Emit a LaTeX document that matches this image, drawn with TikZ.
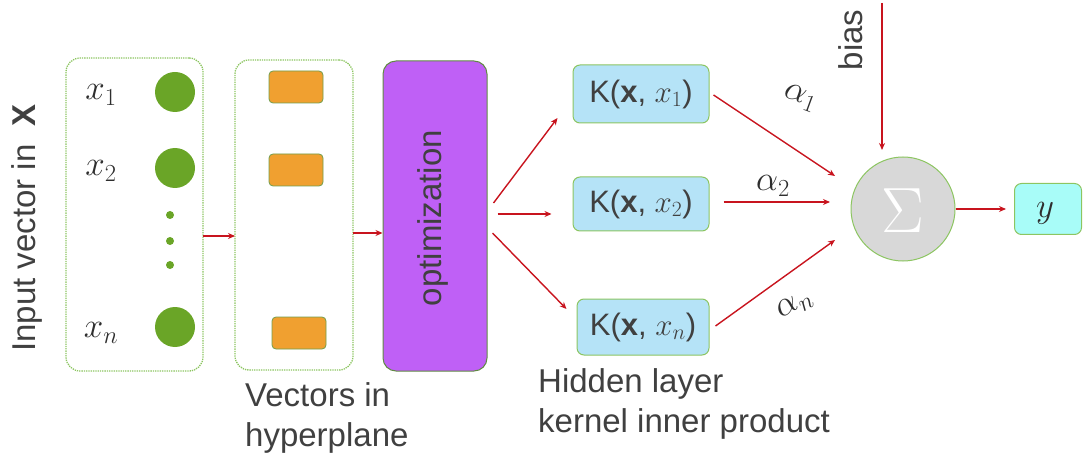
\RequirePackage{fix-cm}
\documentclass[tikz,border=0pt]{standalone}
\usepackage{fontspec}
\setmainfont{Liberation Sans}
\usetikzlibrary{arrows.meta,calc}
\definecolor{txtgray}{HTML}{404040}
\definecolor{mthgray}{HTML}{2E2E2E}
\definecolor{boxgreen}{HTML}{8CC561}
\definecolor{dotgreen}{HTML}{6AA527}
\definecolor{orng}{HTML}{F0A030}
\definecolor{purp}{HTML}{BF60F6}
\definecolor{kblue}{HTML}{B5E3F7}
\definecolor{ycyan}{HTML}{A8FCF8}
\definecolor{sgray}{HTML}{D8D8D8}
\definecolor{arrred}{HTML}{C8141E}
\begin{document}
\begin{tikzpicture}[x=1pt,y=-1pt,
  txt/.style={font=\fontsize{33}{40}\selectfont, text=txtgray, inner sep=0pt},
  mth/.style={font=\fontsize{35}{40}\selectfont, text=mthgray, inner sep=0pt},
  grp/.style={draw=boxgreen, densely dotted, line width=1.3pt, rounded corners=14pt, inner sep=0pt, outer sep=0pt},
  ball/.style={circle, fill=dotgreen, inner sep=0pt, minimum size=40pt},
  smalldot/.style={circle, fill=dotgreen, inner sep=0pt, minimum size=8pt},
  vrect/.style={rectangle, rounded corners=4pt, fill=orng, draw=boxgreen!80!black, line width=0.8pt, minimum width=54pt, minimum height=32pt, inner sep=0pt},
  kbox/.style={rectangle, rounded corners=7pt, fill=kblue, draw=boxgreen, line width=1pt, minimum width=136pt, inner sep=0pt, font=\fontsize{31}{36}\selectfont, text=txtgray},
  arr/.style={draw=arrred, line width=1.4pt, -{Stealth[length=7pt,width=6pt]}}
]
\useasboundingbox (0,0) rectangle (1083,454);

% input group
\node[grp, minimum width=137pt, minimum height=313pt] (inbox) at (134.5,214.5) {};
\node[ball] (c1) at (175,92) {};
\node[ball] (c2) at (175,168) {};
\node[ball] (cn) at (175,327) {};
\node[smalldot] (d1) at (170,215) {};
\node[smalldot] (d2) at (170,241) {};
\node[smalldot] (d3) at (170,265) {};
\node[mth] (lx1) at (101,95) {$x_1$};
\node[mth] (lx2) at (101,171) {$x_2$};
\node[mth] (lxn) at (101,333) {$x_n$};
\node[txt, rotate=90] (inlabel) at (27,228) {Input vector in \ \textbf{X}};

% vectors group
\node[grp, minimum width=118pt, minimum height=310pt] (vecbox) at (294,215) {};
\node[vrect] (r1) at (296,87) {};
\node[vrect] (r2) at (296,170) {};
\node[vrect] (r3) at (299,333) {};
\node[txt, anchor=north west, align=left] (veclabel) at (245,382) {Vectors in\\hyperplane};

% optimization
\node[rectangle, rounded corners=13pt, fill=purp, draw=boxgreen!70!black, line width=1pt, minimum width=104pt, minimum height=310pt, inner sep=0pt] (opt) at (435,216) {};
\node[txt, rotate=90] (optlabel) at (433,218) {optimization};

% kernel boxes
\node[kbox, minimum height=58pt] (k1) at (641,94) {K(\textbf{x}, $x_1$)};
\node[kbox, minimum height=54pt] (k2) at (641,204) {K(\textbf{x}, $x_2$)};
\node[kbox, minimum height=56pt, minimum width=132pt] (kn) at (643,327) {K(\textbf{x}, $x_n$)};
\node[txt, anchor=north west, align=left] (hidlabel) at (538,368) {Hidden layer\\kernel inner product};

% sum and output
\node[circle, fill=sgray, draw=boxgreen, line width=1pt, minimum size=104pt, inner sep=0pt] (sigma) at (903,209) {};
\node[font=\fontsize{64}{64}\selectfont, text=white, inner sep=0pt] (sigmasym) at (903,211) {$\Sigma$};
\node[rectangle, rounded corners=7pt, fill=ycyan, draw=boxgreen, line width=1pt, minimum width=67pt, minimum height=51pt, inner sep=0pt] (ybox) at (1048,209) {};
\node[mth] (ylabel) at (1045,213) {$y$};
\coordinate (biastop) at (882,3);
\node[txt, rotate=90] (biaslabel) at (851,40) {bias};

% alpha labels
\node[mth, rotate=-20] (a1) at (800,98) {$\alpha_1$};
\node[mth] (a2) at (773,186) {$\alpha_2$};
\node[mth, rotate=30] (an) at (795,305) {$\alpha_n$};

% connectors
\draw[arr] ([yshift=-21.5pt]inbox.east) -- ([yshift=-21.5pt]inbox.east -| vecbox.west);
\draw[arr] ([yshift=-18pt]vecbox.east) -- ([yshift=-18pt]vecbox.east -| opt.west);
\draw[arr] ($(opt.east)+(6,-13)$) -- ($(k1.west)+(-15,24)$);
\draw[arr] ($(opt.east)+(10,-2)$) -- ($(k2.west)+(-21,10)$);
\draw[arr] ($(opt.east)+(5,17)$) -- ($(kn.west)+(-10,-18)$);
\draw[arr] ($(k1.east)+(4,1)$) -- ($(sigma)+(-68,-33)$);
\draw[arr] ($(k2.east)+(14,-2)$) -- ($(sigma)+(-73,-7)$);
\draw[arr] ($(kn.east)+(6,-1)$) -- ($(sigma)+(-68,31)$);
\draw[arr] (biastop) -- ($(sigma)+(-21,-59)$);
\draw[arr] (sigma.east) -- ([xshift=-8pt]ybox.west);
\end{tikzpicture}
\end{document}
